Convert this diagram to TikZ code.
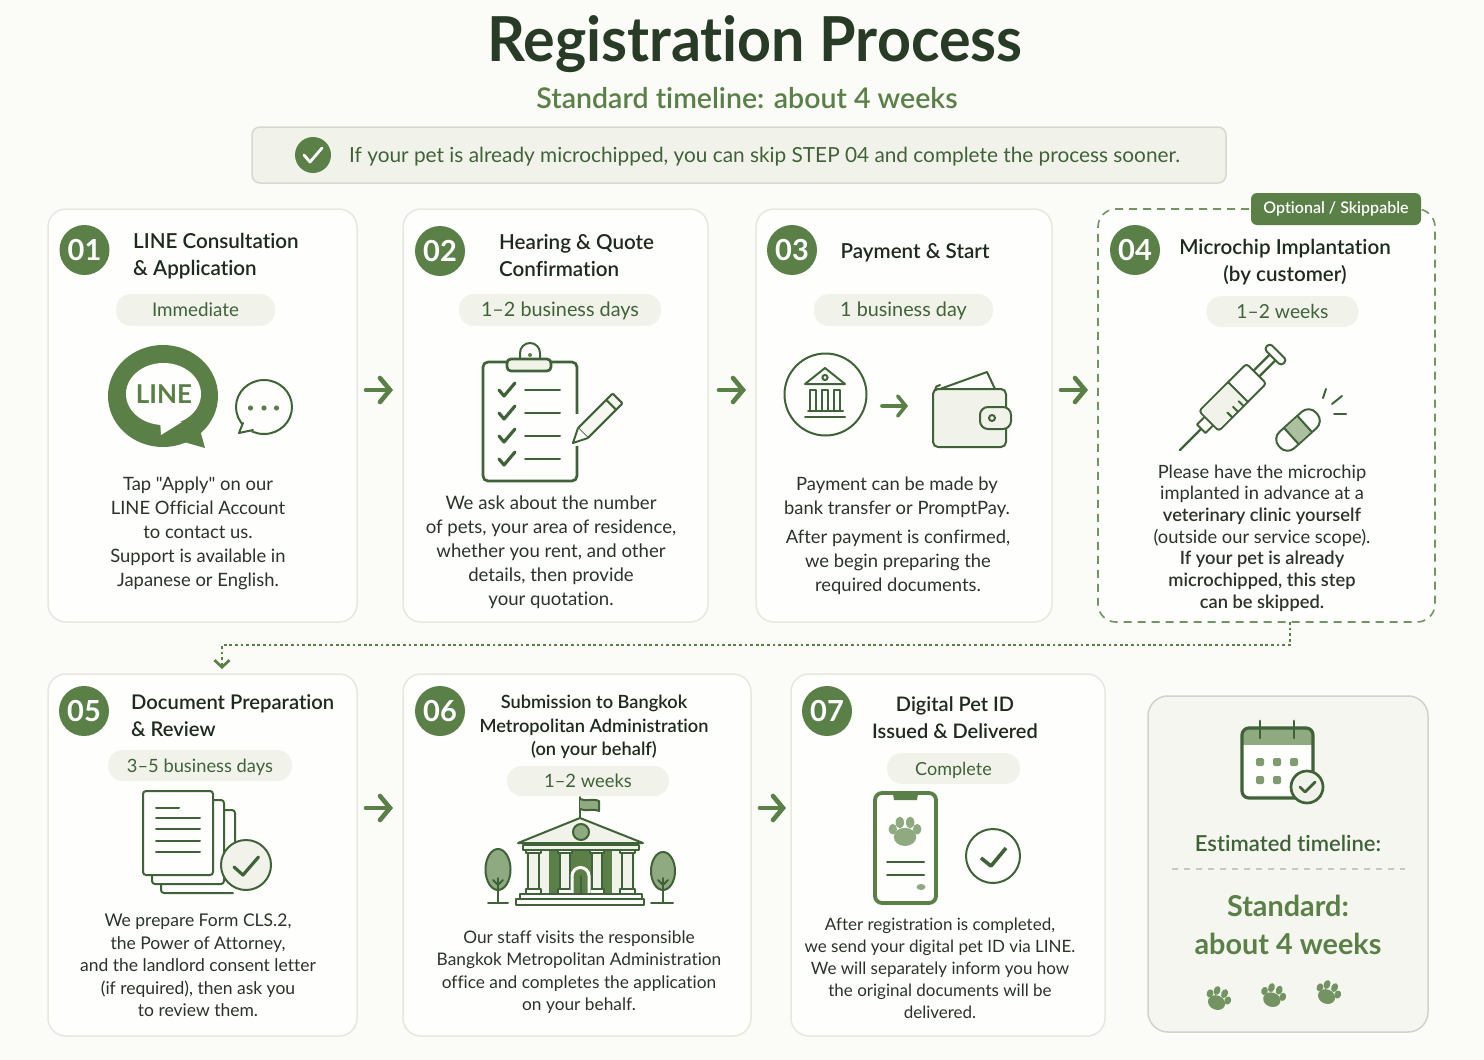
\documentclass[tikz,border=0pt]{standalone}
\usepackage{fontspec}
\newfontfamily\latofam{Lato}[Ligatures=NoCommon]
\newfontfamily\medfam{Lato Semibold}[Ligatures=NoCommon]
\newfontfamily\titlefam{Lato}[FakeStretch=0.955,Ligatures=NoCommon]
\newcommand\sem[1]{{\medfam #1}}
\usetikzlibrary{arrows.meta,calc}
\definecolor{bgc}{HTML}{FBFBF7}
\definecolor{cardc}{HTML}{FEFEFC}
\definecolor{edgec}{HTML}{E6E9DD}
\definecolor{gmain}{HTML}{5A8048}
\definecolor{gdark}{HTML}{3F6238}
\definecolor{gpale}{HTML}{F1F3EA}
\definecolor{gmid}{HTML}{8FAA80}
\definecolor{inkc}{HTML}{1E2A1E}
\definecolor{bodyc}{HTML}{2B332B}
\newcommand\fs[2]{\fontsize{#1}{#2}\selectfont}
\newcommand\pawicon[5]{\begin{scope}[shift={(#1,#2)},rotate=#4,scale=#3]
\fill[#5] (0,3.5) ellipse [x radius=8pt,y radius=6.5pt];
\fill[#5] (-8.7,-2) ellipse [x radius=3pt,y radius=3.8pt];
\fill[#5] (-3.7,-6.8) ellipse [x radius=3pt,y radius=4.2pt];
\fill[#5] (3.7,-6.8) ellipse [x radius=3pt,y radius=4.2pt];
\fill[#5] (8.7,-2) ellipse [x radius=3pt,y radius=3.8pt];
\end{scope}}
\tikzset{
 x=1pt,y=-1pt,
 card/.style={draw=edgec,line width=1.5pt,fill=cardc,rounded corners=18pt,inner sep=0pt,outer sep=0pt},
 optcard/.style={draw=gmain!85,line width=1.6pt,dash pattern=on 8pt off 6pt,fill=cardc,rounded corners=18pt,inner sep=0pt,outer sep=0pt},
 sumcard/.style={draw=edgec!80!gray,line width=1.5pt,fill=gpale!60!bgc,rounded corners=20pt,inner sep=0pt,outer sep=0pt},
 badge/.style={circle,fill=gmain,text=white,minimum size=50pt,inner sep=0pt,font=\fs{29}{30}\bfseries},
 pill/.style={fill=gpale,rounded corners=15pt,inner sep=0pt,text=gdark,font=\fs{19.8}{22},text height=15pt,text depth=2pt},
 ctitle/.style={text=inkc,font=\medfam\fs{20.6}{27},inner sep=0pt,align=center},
 ltitle/.style={ctitle,align=left,anchor=west},
 bodytxt/.style={text=bodyc,font=\fs{18.4}{24},inner sep=0pt,align=center},
 flow/.style={draw=gmain,line width=4.6pt,line cap=round,-{Straight Barb[length=10pt,width=24pt,line width=4.6pt,line cap=round]}},
 ico/.style={draw=gdark,line width=2pt,line cap=round,line join=round},
 icob/.style={draw=gdark,line width=2.7pt,line cap=round,line join=round},
}
\begin{document}
\latofam
\begin{tikzpicture}
\useasboundingbox (0,0) rectangle (1484,1060);
\fill[bgc] (0,0) rectangle (1484,1060);

% header
\node[text=inkc!70!gdark,inner sep=0pt,font=\titlefam\fs{62}{64}\bfseries] (title) at (755,44) {Registration Process};
\node[text=gmain,inner sep=0pt,font=\medfam\fs{28.5}{32}] (subtitle) at (747,98) {Standard timeline: about 4 weeks};
\node[draw=edgec!85!gray,fill=gpale,line width=1.5pt,rounded corners=8pt,minimum width=974pt,minimum height=56pt,inner sep=0pt] (banner) at (739,155) {};
\node[circle,fill=gmain,minimum size=36pt,inner sep=0pt] (bcheck) at (313,155) {};
\draw[white,line width=2.8pt,line cap=round,line join=round] (304,155) -- (310,162) -- (322,148);
\node[anchor=west,text=gdark,inner sep=0pt,font=\fs{20.8}{24}] (btext) at (349,157) {If your pet is already microchipped, you can skip STEP 04 and complete the process sooner.};

% cards
\node[card,minimum width=309pt,minimum height=413pt] (c1) at (202.5,415.5) {};
\node[card,minimum width=305pt,minimum height=413pt] (c2) at (555.5,415.5) {};
\node[card,minimum width=296pt,minimum height=413pt] (c3) at (904,415.5) {};
\node[optcard,minimum width=337pt,minimum height=413pt] (c4) at (1266.5,415.5) {};
\node[card,minimum width=309pt,minimum height=362pt] (c5) at (202.5,855) {};
\node[card,minimum width=348pt,minimum height=362pt] (c6) at (577,855) {};
\node[card,minimum width=314pt,minimum height=362pt] (c7) at (948,855) {};
\node[sumcard,minimum width=280pt,minimum height=336pt] (c8) at (1288,864) {};
\node[fill=gmain,rounded corners=6pt,minimum width=170pt,minimum height=32pt,inner sep=0pt,text=white,font=\medfam\fs{16}{20}] (tag) at (1336,209) {Optional / Skippable};

% connectors
\coordinate (rowa) at (0,390);
\coordinate (rowb) at (0,808);
\coordinate (d1) at (1290,645);
\coordinate (d2) at (222,645);
\draw[flow,shorten <=9pt,shorten >=10pt] (c1.east |- rowa) -- (c2.west |- rowa);
\draw[flow,shorten <=11pt,shorten >=10pt] (c2.east |- rowa) -- (c3.west |- rowa);
\draw[flow,shorten <=9pt,shorten >=10pt] (c3.east |- rowa) -- (c4.west |- rowa);
\draw[flow,shorten <=9pt,shorten >=10pt] (c5.east |- rowb) -- (c6.west |- rowb);
\draw[flow,shorten <=9pt,shorten >=5pt] (c6.east |- rowb) -- (c7.west |- rowb);
\draw[draw=gmain,line width=2.7pt,dash pattern=on 2.8pt off 2.8pt,-{Straight Barb[length=7pt,width=15pt,line width=2.7pt]},shorten >=5pt] (c4.south -| d1) -- (d1) -- (d2) -- (c5.north -| d2);

% badges
\node[badge] (b1) at (84.5,250) {\raisebox{-0.6pt}{01}};
\node[badge] (b2) at (440,251) {\raisebox{-0.6pt}{02}};
\node[badge] (b3) at (792,250) {\raisebox{-0.6pt}{03}};
\node[badge] (b4) at (1135,250) {\raisebox{-0.6pt}{04}};
\node[badge] (b5) at (84,711) {\raisebox{-0.6pt}{05}};
\node[badge] (b6) at (440,711) {\raisebox{-0.6pt}{06}};
\node[badge] (b7) at (827,711) {\raisebox{-0.6pt}{07}};

% titles
\node[ltitle] (t1) at (133,256.5) {LINE Consultation\\\& Application};
\node[ltitle] (t2) at (499,255.5) {Hearing \& Quote\\Confirmation};
\node[ctitle] (t3) at (915,252.5) {Payment \& Start};
\node[ctitle] (t4) at (1285,262) {Microchip Implantation\\(by customer)};
\node[ltitle,font=\medfam\fs{20.2}{27}] (t5) at (131,715.5) {Document Preparation\\\& Review};
\node[ctitle,font=\medfam\fs{18.2}{23.5}] (t6) at (594,727) {Submission to Bangkok\\Metropolitan Administration\\(on your behalf)};
\node[ctitle,font=\medfam\fs{20}{27}] (t7) at (955,718) {Digital Pet ID\\Issued \& Delivered};

% pills
\node[pill,minimum width=159pt,minimum height=32pt,font=\fs{18.8}{22}] (p1) at (195.5,310) {Immediate};
\node[pill,minimum width=202pt,minimum height=32pt] (p2) at (560,310) {1–2 business days};
\node[pill,minimum width=179pt,minimum height=32pt] (p3) at (903.5,310) {1 business day};
\node[pill,minimum width=152pt,minimum height=31pt,font=\fs{19.3}{22}] (p4) at (1282.5,311.5) {1–2 weeks};
\node[pill,minimum width=184pt,minimum height=31pt,font=\fs{18.3}{22}] (p5) at (200,765.5) {3–5 business days};
\node[pill,minimum width=162pt,minimum height=30pt,font=\fs{18.4}{22}] (p6) at (588,781) {1–2 weeks};
\node[pill,minimum width=133pt,minimum height=31pt,font=\fs{18}{22}] (p7) at (953.5,768.5) {Complete};

% body texts
\node[bodytxt] (x1) at (198,533.5) {Tap "Apply" on our\\LINE Official Account\\to contact us.\\Support is available in\\Japanese or English.};
\node[bodytxt,font=\fs{18.6}{24}] (x2) at (551,552.5) {We ask about the number\\of pets, your area of residence,\\whether you rent, and other\\details, then provide\\your quotation.};
\node[bodytxt] (x3a) at (897,497.5) {Payment can be made by\\bank transfer or PromptPay.};
\node[bodytxt] (x3b) at (898,562.5) {After payment is confirmed,\\we begin preparing the\\required documents.};
\node[bodytxt,font=\fs{18.3}{21.7}] (x4) at (1262,538) {Please have the microchip\\implanted in advance at a\\\sem{veterinary clinic yourself}\\(outside our service scope).\\\sem{If your pet is already}\\\sem{microchipped, this step}\\\sem{can be skipped.}};
\node[bodytxt,font=\fs{17.5}{22.5}] (x5) at (198,965.5) {We prepare Form CLS.2,\\the Power of Attorney,\\and the landlord consent letter\\(if required), then ask you\\to review them.};
\node[bodytxt,font=\fs{17.3}{22.5}] (x6) at (579,972) {Our staff visits the responsible\\Bangkok Metropolitan Administration\\office and completes the application\\on your behalf.};
\node[bodytxt,font=\fs{17}{22}] (x7) at (940,968.5) {After registration is completed,\\we send your digital pet ID via LINE.\\We will separately inform you how\\the original documents will be\\delivered.};

% summary
\node[text=gdark,inner sep=0pt,font=\medfam\fs{22}{26}] (s1) at (1288,843) {Estimated timeline:};
\node[text=gmain,inner sep=0pt,font=\fs{28.8}{38}\bfseries,align=center] (s2) at (1288,925) {Standard:\\about 4 weeks};
\draw[draw=edgec!70!gray,line width=1.4pt,dash pattern=on 6pt off 6pt] (1172,869) -- (1405,869);

% icon LINE
\fill[gmain] (163,396) ellipse [x radius=55pt,y radius=51pt];
\fill[gmain] (200,430) -- (205,448) -- (184,442) -- cycle;
\fill[cardc] (163.5,394) ellipse [x radius=37.5pt,y radius=31pt];
\fill[cardc] (160,420) -- (161,435) -- (182,422) -- cycle;
\node[text=gmain,inner sep=0pt,font=\fs{26}{28}\bfseries] (linetxt) at (164,394) {LINE};
\draw[ico] (264,407) ellipse [x radius=28pt,y radius=27pt];
\fill[cardc] (243,422) -- (239,433) -- (254,431) -- cycle;
\draw[ico] (243,423) -- (239,433) -- (253,430);
\fill[gmain] (250.5,408) circle [radius=2.6pt] (264,408) circle [radius=2.6pt] (276.5,408) circle [radius=2.6pt];

% icon clipboard
\draw[icob,rounded corners=5pt] (483,362) rectangle (577,481);
\draw[ico,fill=cardc] (520,358) -- (520,353) arc [start angle=180,end angle=0,radius=10pt] -- (540,358);
\fill[gmain] (530,355) circle [radius=2pt];
\draw[icob,fill=gpale,rounded corners=4pt] (507,359) rectangle (551,371);
\foreach \yy in {390,413,436,459}{
 \draw[icob,line width=3.2pt] (499,\yy) -- (504,\yy+6) -- (515,\yy-7);
 \draw[ico] (525,\yy) -- (560,\yy);
}
\fill[cardc] (571,414) rectangle (583,446);
\begin{scope}[shift={(573,443)},rotate=45]
 \draw[ico,fill=gpale!60!cardc,rounded corners=1pt] (14,-7) -- (54,-7) -- (63,-7) -- (63,7) -- (14,7) -- cycle;
 \draw[ico] (54,-7) -- (54,7);
 \draw[ico,fill=cardc] (14,-7) -- (0,0) -- (14,7);
\end{scope}

% icon bank + wallet
\draw[ico] (825.5,394.5) circle [radius=41pt];
\draw[ico] (805,384) -- (825,368) -- (845,384) -- cycle;
\draw[ico] (825,377.5) circle [radius=2.6pt];
\foreach \xa/\xb in {810/816,822/828,834/840}{\draw[ico] (\xa,411) -- (\xa,390) -- (\xb,390) -- (\xb,411);}
\draw[ico] (808,411) -- (843,411);
\draw[ico] (805,417) -- (845,417);
\draw[draw=gmain,line width=3.6pt,line cap=round,-{Straight Barb[length=8pt,width=20pt,line width=3.6pt,line cap=round]}] (882,406) -- (908,406);
\draw[ico,fill=cardc] (940,389) -- (987,372) -- (995,389);
\draw[ico] (935,390) arc [start angle=180,end angle=90,radius=5pt];
\draw[ico,fill=gpale,rounded corners=5pt] (933,389) rectangle (1006,447);
\draw[ico,fill=gpale,rounded corners=8pt] (980,407) rectangle (1011,429);
\draw[ico] (992,418) circle [radius=3pt];

% icon syringe
\begin{scope}[shift={(1180,450)},rotate=45]
 \draw[ico,line width=2.4pt] (0,0) -- (30,0);
 \draw[ico,fill=cardc] (30,-6) rectangle (41,6);
 \draw[ico,line width=2.3pt] (108,-4) -- (132,-4) (108,4) -- (132,4);
 \draw[ico,fill=cardc,rounded corners=3.5pt] (131,-12) rectangle (139,12);
 \draw[ico,fill=cardc,rounded corners=3pt] (41,-14) rectangle (108,14);
 \fill[gpale,rounded corners=3pt] (42,-13) rectangle (82,13);
 \draw[ico] (82,-14) -- (82,14);
 \foreach \tk in {60,68,76}{\draw[ico] (\tk,14) -- (\tk,7);}
\end{scope}
\begin{scope}[shift={(1298,430)},rotate=42]
 \draw[ico,fill=cardc,rounded corners=10pt] (-25,-11) rectangle (25,11);
 \fill[gmid!70!gpale] (-9,-10) rectangle (9,10);
 \draw[ico] (-9,-11) -- (-9,11) (9,-11) -- (9,11);
\end{scope}
\draw[ico] (1323,398) -- (1326,389);
\draw[ico] (1332,404) -- (1342,396);
\draw[ico] (1334,414) -- (1346,414);

% icon documents
\draw[ico,rounded corners=3pt] (213,800) -- (224,800) -- (224,884) -- (152,884) -- (152,875);
\draw[ico,rounded corners=3pt] (224,810) -- (235,810) -- (235,845);
\draw[ico,rounded corners=3pt] (161,884) -- (161,893) -- (233,893);
\draw[ico,fill=cardc,rounded corners=3pt] (143,791) rectangle (213,875);
\draw[ico] (156,808) -- (179,808);
\foreach \yy in {818,829,841,852}{\draw[ico] (156,\yy) -- (200,\yy);}
\draw[ico,fill=gpale] (246,865) ellipse [x radius=25pt,y radius=25pt];
\draw[icob,line width=3.2pt] (234,867) -- (243,875) -- (258.5,857);

% icon building
\foreach \cx/\cy/\rx/\ry/\gl/\gr in {498/869.5/12.5/20.5/488/508,663/871/12/19/651/673}{
 \draw[ico,fill=gmid] (\cx,\cy) ellipse [x radius=\rx pt,y radius=\ry pt];
 \draw[ico] (\cx,878) -- (\cx,903);
 \draw[ico] (\cx-5,880) -- (\cx,885) -- (\cx+5,880);
 \draw[ico] (\gl,903) -- (\gr,903);
}
\draw[ico] (580,818) -- (580,797);
\draw[ico,fill=gmid] (580,799) .. controls (586,802) and (592,798) .. (599,801) -- (599,811) .. controls (592,808) and (586,812) .. (580,809);
\fill[gpale] (526,850) rectangle (635,894);
\fill[gmain] (549,850) rectangle (612,894);
\draw[ico,fill=gpale] (518,843) -- (580,818) -- (643,843) -- cycle;
\draw[ico,fill=gmid] (581,832) circle [radius=8pt];
\draw[ico,fill=gpale] (523,845) rectangle (638.5,850);
\foreach \xa/\xb in {526/541,558/572,590/604,620/635}{
 \draw[ico,fill=gpale] (\xa+2,852) rectangle (\xb-2,889);
 \draw[ico,fill=cardc] (\xa,850) rectangle (\xb,853);
 \draw[ico,fill=cardc] (\xa,889) rectangle (\xb,894);
}
\draw[draw=cardc,fill=gmain,line width=3pt] (572,894) -- (572,876) arc [start angle=180,end angle=0,radius=8.5pt] -- (589,894);
\draw[ico] (580.5,876) -- (580.5,894);
\draw[ico,fill=cardc] (520,894) rectangle (642,899);
\draw[ico,fill=cardc] (516,899) rectangle (644,905);

% icon phone + check
\draw[draw=gmain,line width=3.8pt,fill=cardc,rounded corners=7pt] (875,793) rectangle (936,903);
\fill[gmain] (893,794) -- (918,794) -- (917,800) -- (894,800) -- cycle;
\pawicon{905}{832}{1.4}{0}{gmid}
\draw[ico] (887,862) -- (924,862) (887,875) -- (924,875);
\fill[gmid] (921,887) ellipse [x radius=4.5pt,y radius=3pt];
\draw[ico] (993,856) circle [radius=27pt];
\draw[icob,line width=3.6pt,line cap=butt] (981,858) -- (991,866) -- (1006,848);

% icon calendar
\fill[gmid,rounded corners=7pt] (1242,728) rectangle (1313,752);
\fill[cardc] (1242,745) rectangle (1313,795);
\draw[icob,line width=3.2pt,rounded corners=7pt] (1242,728) rectangle (1313,798);
\draw[icob] (1260,721) -- (1260,738) (1294,721) -- (1294,738);
\foreach \px/\py in {1260/762,1277/762,1294/762,1260/780,1277/780}{\fill[gmid!80!gdark,rounded corners=2pt] (\px-4,\py-4) rectangle (\px+4,\py+4);}
\draw[icob,fill=gpale] (1307,787) circle [radius=16pt];
\draw[icob,line width=2.8pt] (1300,787) -- (1305,792) -- (1315,782);
\pawicon{1218}{999}{1.1}{-22}{gmain!85}
\pawicon{1273}{996}{1.1}{-18}{gmain!85}
\pawicon{1328}{993}{1.1}{-22}{gmain!85}
\end{tikzpicture}
\end{document}
